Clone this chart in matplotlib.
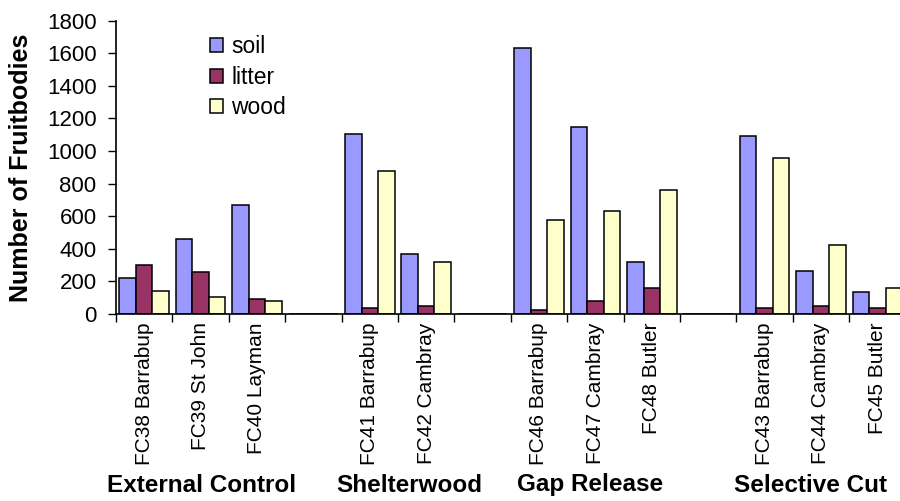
import matplotlib
matplotlib.use("Agg")
import matplotlib.pyplot as plt
import numpy as np

plt.rcParams['font.family'] = ['Liberation Sans', 'DejaVu Sans']

categories = ["FC38 Barrabup", "FC39 St John", "FC40 Layman", "",
              "FC41 Barrabup", "FC42 Cambray", "",
              "FC46 Barrabup", "FC47 Cambray", "FC48 Butler", "",
              "FC43 Barrabup", "FC44 Cambray", "FC45 Butler"]
soil   = [220, 460, 670, 0, 1105, 370, 0, 1635, 1150, 320, 0, 1095, 265, 135]
litter = [300, 255, 90, 0, 35, 47, 0, 22, 80, 160, 0, 35, 47, 35]
wood   = [140, 105, 80, 0, 875, 320, 0, 575, 633, 760, 0, 955, 425, 160]
groups = ["External Control", "Shelterwood", "Gap Release", "Selective Cut"]
group_x_px = [202, 409, 590, 811]
yticks = list(range(0, 1801, 200))

fig = plt.figure(figsize=(9, 5.01), dpi=100)
ax = fig.add_axes([116/900, 1-314/501, 789.6/900, (314-20.7)/501])

x = np.arange(len(categories))
w = 0.293
cols = {"soil": "#9999FF", "litter": "#993366", "wood": "#FFFFCC"}
for i, (name, vals) in enumerate([("soil", soil), ("litter", litter), ("wood", wood)]):
    ax.bar(x + (i-1)*w, vals, width=w, color=cols[name], edgecolor="black",
           linewidth=1.1, label=name, zorder=2)

ax.set_xlim(-0.5, len(categories)-0.5)
ax.set_ylim(0, 1800)
ax.set_yticks(yticks)
ax.set_yticklabels([str(v) for v in yticks])
ax.tick_params(axis='y', direction='out', length=6, width=1, pad=8, labelsize=16)

ax.set_xticks(x)
ax.set_xticks(np.arange(-0.5, len(categories), 1.0), minor=True)
ax.set_xticklabels(categories)
ax.tick_params(axis='x', which='major', length=0, pad=6, labelsize=15, labelrotation=90)
ax.tick_params(axis='x', which='minor', direction='out', length=6, width=1)
for lbl in ax.get_xticklabels():
    lbl.set_fontsize(15)
    lbl.set_va('top')
    lbl.set_ha('center')

for s in ['top', 'right']:
    ax.spines[s].set_visible(False)
for s in ['left', 'bottom']:
    ax.spines[s].set_linewidth(1.2)

ax.set_ylabel("Number of Fruitbodies", fontsize=18, fontweight='bold', labelpad=10)

leg = ax.legend(loc='upper left', bbox_to_anchor=((201-116)/789.6, (314-26)/293.3),
                frameon=False, fontsize=16.5, handlelength=0.57, handleheight=0.57,
                handletextpad=0.35, labelspacing=0.33, borderaxespad=0)

for g, px in zip(groups, group_x_px):
    fig.text(px/900, 1-485/501, g, ha='center', va='center', fontsize=17.5,
             fontweight='bold')

fig.savefig("out.png", dpi=100)
